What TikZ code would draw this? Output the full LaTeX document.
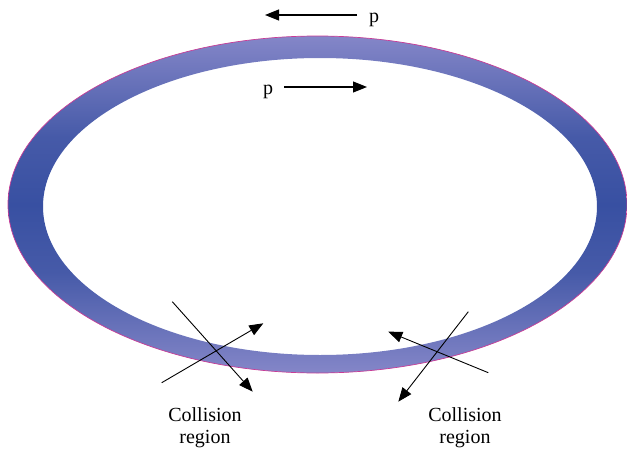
\documentclass[tikz,border=0pt]{standalone}
\usepackage{fontspec}
\setmainfont{Liberation Serif}
\usetikzlibrary{arrows.meta}
\definecolor{ringlight}{RGB}{132,134,200}
\definecolor{ringmid}{RGB}{70,90,168}
\definecolor{ringdark}{RGB}{56,80,162}
\definecolor{ringedge}{RGB}{200,60,150}
\pgfdeclareverticalshading{ringshade}{100bp}{color(0bp)=(ringlight); color(25bp)=(ringlight); color(40bp)=(ringmid); color(50bp)=(ringdark); color(60bp)=(ringmid); color(75bp)=(ringlight); color(100bp)=(ringlight)}
\tikzset{
  mom/.style={-{Triangle[length=14pt,width=11pt]}, line width=1.1pt, black},
  track/.style={-{Triangle[length=14pt,width=11pt]}, line width=0.9pt, black},
  lbl/.style={font=\fontsize{20}{22}\selectfont, inner sep=0pt, align=center},
}
\begin{document}
\begin{tikzpicture}[x=1pt,y=-1pt]
\useasboundingbox (0,0) rectangle (627,450);
% ring
\path[even odd rule, shading=ringshade]
  (317.5,204.5) ellipse [x radius=309.5, y radius=168.5]
  (320,206.5) ellipse [x radius=277, y radius=148.5];
\draw[ringedge, line width=0.7pt] (317.5,204.5) ellipse [x radius=309.5, y radius=168.5];
% momentum arrows
\node[lbl, anchor=base] (p1) at (374,22) {p};
\coordinate (a1s) at (357,15);
\coordinate (a1e) at (265,15);
\draw[mom] (a1s) -- (a1e);
\node[lbl, anchor=base] (p2) at (268,94) {p};
\coordinate (a2s) at (284,87);
\coordinate (a2e) at (367,87);
\draw[mom] (a2s) -- (a2e);
% left collision
\coordinate (l1s) at (172.3,301.7);
\coordinate (l1e) at (252.7,391.7);
\coordinate (l2s) at (161.7,382.7);
\coordinate (l2e) at (263.3,323.3);
\draw[track] (l1s) -- (l1e);
\draw[track] (l2s) -- (l2e);
% right collision
\coordinate (r1s) at (488.3,372.7);
\coordinate (r1e) at (388.3,331.7);
\coordinate (r2s) at (468.3,311.7);
\coordinate (r2e) at (398.3,401.7);
\draw[track] (r1s) -- (r1e);
\draw[track] (r2s) -- (r2e);
% labels
\node[lbl, anchor=base] (cl) at (205,443) {Collision\\region};
\node[lbl, anchor=base] (cr) at (465,443) {Collision\\region};
\end{tikzpicture}
\end{document}
